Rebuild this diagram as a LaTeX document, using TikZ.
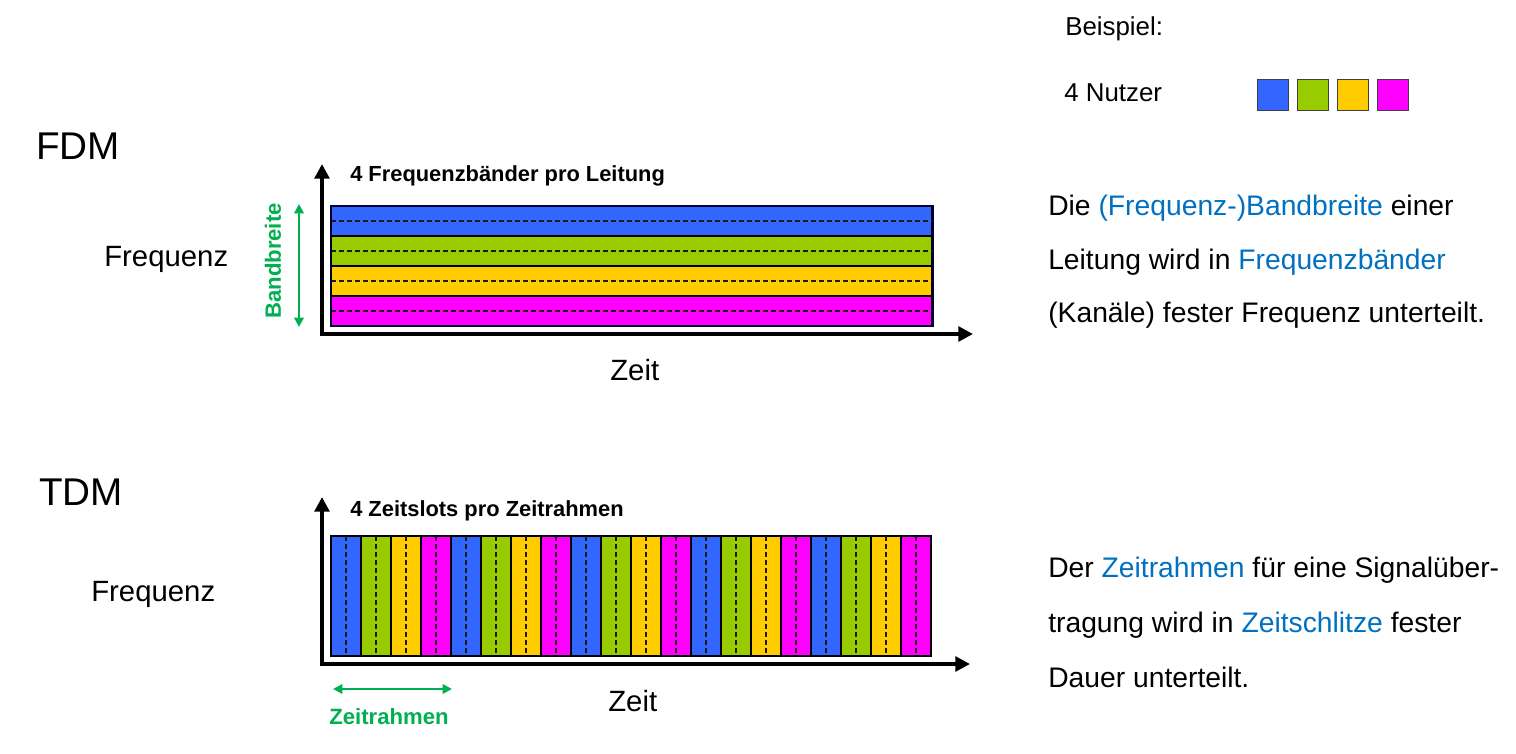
\documentclass[tikz,border=0pt]{standalone}
\usepackage{fontspec}
\setmainfont{Liberation Sans}
\usetikzlibrary{arrows.meta}
\definecolor{ublue}{HTML}{3366FF}
\definecolor{ugreen}{HTML}{99CC00}
\definecolor{uyellow}{HTML}{FFCC00}
\definecolor{umag}{HTML}{FF00FF}
\definecolor{accgreen}{HTML}{00B050}
\definecolor{txtblue}{HTML}{0070C0}
\newcommand{\fs}[1]{\fontsize{#1}{#1}\selectfont}
\begin{document}
\begin{tikzpicture}[x=0.75pt,y=-0.75pt,
  txt/.style={inner sep=0pt, anchor=base west},
  title/.style={txt, font=\fs{29}},
  axislabel/.style={txt, font=\fs{22}},
  para/.style={txt, font=\fs{21.2}},
  legendtxt/.style={txt, font=\fs{19.4}},
  heading/.style={txt, font=\fs{16.4}\bfseries},
  greenlabel/.style={inner sep=0pt, font=\fs{16.6}\bfseries, text=accgreen},
  axis/.style={line width=3pt, line join=miter,
    {Triangle[length=11pt,width=11pt]}-{Triangle[length=11pt,width=11pt]}},
  measure/.style={draw=accgreen, line width=2pt,
    {Triangle[length=7pt,width=7pt]}-{Triangle[length=7pt,width=7pt]}},
  cell/.style={draw=black, line width=1.1pt},
  midline/.style={draw=black!90, line width=0.9pt, dash pattern=on 3.6pt off 2.4pt},
  legendbox/.style={draw=black!75, line width=1.1pt}
]
\useasboundingbox (0,0) rectangle (1516,753);

% ---------- legend ----------
\node[legendtxt] (beispiel) at (1065,35) {Beispiel:};
\node[legendtxt] (nutzer) at (1064,101) {4 Nutzer};
\foreach \c [count=\i from 0] in {ublue,ugreen,uyellow,umag}{
  \node[legendbox, fill=\c, minimum width=23pt, minimum height=23pt, inner sep=0pt, anchor=north west]
    (leg\i) at (1257+40*\i,79) {};
}

% ---------- FDM ----------
\node[title] (fdm) at (36,159) {FDM};
\node[axislabel] (ffreq) at (104,266) {Frequenz};
\node[axislabel] (fzeit) at (610,380) {Zeit};
\node[heading] (fhead) at (350,181.5) {4 Frequenzbänder pro Leitung};

\foreach \c [count=\i from 0] in {ublue,ugreen,uyellow,umag}{
  \path[cell, fill=\c] (331,206+30*\i) rectangle (932,236+30*\i);
  \draw[midline] (331,221+30*\i) -- (932,221+30*\i);
}
\draw[draw=black!80!blue, line width=1.1pt] (331,206) rectangle (933,326);

\coordinate (fY) at (322,164);
\coordinate (fO) at (322,334);
\coordinate (fX) at (973,334);
\draw[axis] (fY) -- (fO) -- (fX);

\coordinate (bwTop) at (299,204);
\coordinate (bwBot) at (299,327);
\draw[measure] (bwTop) -- (bwBot);
\node[greenlabel, rotate=90] (bw) at (273,261) {Bandbreite};

\node[para] (fp1) at (1048,215) {Die \textcolor{txtblue}{(Frequenz-)Bandbreite} einer};
\node[para] (fp2) at (1048,269.5) {Leitung wird in \textcolor{txtblue}{Frequenzbänder}};
\node[para] (fp3) at (1048,322) {(Kanäle) fester Frequenz unterteilt.};

% ---------- TDM ----------
\node[title] (tdm) at (39,505) {TDM};
\node[axislabel] (tfreq) at (91,601.5) {Frequenz};
\node[axislabel] (tzeit) at (608,711.5) {Zeit};
\node[heading] (thead) at (350,516) {4 Zeitslots pro Zeitrahmen};

\foreach \i in {0,...,19}{
  \pgfmathtruncatemacro{\k}{mod(\i,4)}
  \ifcase\k \def\cc{ublue}\or \def\cc{ugreen}\or \def\cc{uyellow}\or \def\cc{umag}\fi
  \path[cell, fill=\cc] (331+30*\i,536) rectangle (361+30*\i,656);
  \draw[midline] (346+30*\i,536) -- (346+30*\i,656);
}

\coordinate (tY) at (322,497);
\coordinate (tO) at (322,664);
\coordinate (tX) at (970,664);
\draw[axis] (tY) -- (tO) -- (tX);

\coordinate (frL) at (333,689);
\coordinate (frR) at (452,689);
\draw[measure] (frL) -- (frR);
\node[greenlabel, anchor=base] (fr) at (389,724) {Zeitrahmen};

\node[para] (tp1) at (1048,577) {Der \textcolor{txtblue}{Zeitrahmen} für eine Signalüber-};
\node[para] (tp2) at (1048,632) {tragung wird in \textcolor{txtblue}{Zeitschlitze} fester};
\node[para] (tp3) at (1048,687) {Dauer unterteilt.};
\end{tikzpicture}
\end{document}
